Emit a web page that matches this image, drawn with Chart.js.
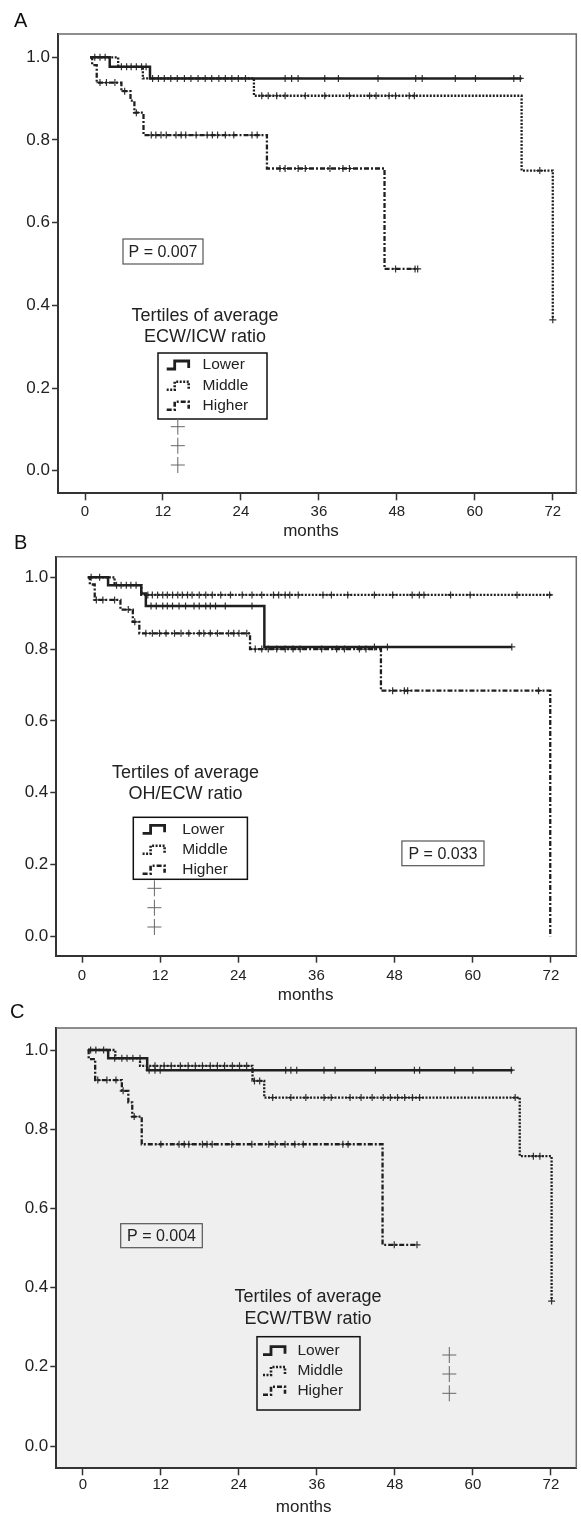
<!DOCTYPE html>
<html>
<head>
<meta charset="utf-8">
<script src="https://cdn.jsdelivr.net/npm/chart.js@4.4.1/dist/chart.umd.min.js"></script>
<style>
  html, body { margin: 0; padding: 0; background: #fff; }
  #wrap { position: relative; width: 581px; height: 1517px; overflow: hidden; }
  canvas { position: absolute; left: 0; }
</style>
</head>
<body>
<div id="wrap">
  <canvas id="chartA" width="581" height="540" style="top:0px"></canvas>
  <canvas id="chartB" width="581" height="475" style="top:528px"></canvas>
  <canvas id="chartC" width="581" height="519" style="top:998px"></canvas>
</div>
<script>
// ---- data (months, cumulative survival) ----
const monthTicks = [0, 12, 24, 36, 48, 60, 72];
const survTicks = [0.0, 0.2, 0.4, 0.6, 0.8, 1.0];
const groups = ['Lower', 'Middle', 'Higher'];

// Panel A: ECW/ICW ratio
const aLowerT = [0.8, 3.8, 10.0, 67.2];
const aLowerS = [1.0, 0.977, 0.949, 0.949];
const aLowerCens = [1.5, 2.3, 3.1, 5.6, 6.4, 7.1, 7.9, 8.7, 9.4, 10.4, 11.3, 12.2, 13.2, 14.2, 15.3, 16.3, 17.4, 18.5, 19.5, 20.6, 21.6, 22.6, 23.6, 24.7, 30.8, 31.8, 32.8, 36.9, 39.0, 45.1, 50.9, 51.9, 57.0, 60.1, 66.0, 67.0];
const aMiddleT = [0.8, 5.1, 8.9, 26.0, 67.2, 72.0];
const aMiddleS = [1.0, 0.977, 0.949, 0.907, 0.726, 0.365];
const aMiddleCens = [27.2, 28.2, 29.5, 30.8, 33.9, 36.9, 40.7, 43.8, 44.8, 46.8, 47.8, 49.9, 50.7, 70.0, 72.0];
const aHigherT = [0.8, 1.1, 1.8, 5.6, 7.0, 7.6, 9.0, 28.0, 46.1, 51.2];
const aHigherS = [1.0, 0.981, 0.939, 0.918, 0.895, 0.866, 0.812, 0.731, 0.488, 0.488];
const aHigherCens = [2.3, 3.3, 4.6, 6.1, 7.9, 10.2, 10.9, 11.7, 12.5, 14.0, 14.8, 15.5, 17.1, 18.8, 19.6, 20.4, 21.6, 22.9, 25.7, 26.5, 30.0, 30.8, 32.8, 33.9, 37.7, 39.7, 40.7, 47.8, 50.8, 51.2];

// Panel B: OH/ECW ratio
const bLowerT = [0.9, 4.0, 9.1, 9.8, 28.0, 66.0];
const bLowerS = [1.0, 0.978, 0.955, 0.92, 0.806, 0.806];
const bLowerCens = [1.4, 2.7, 5.3, 6.0, 6.8, 7.5, 8.3, 10.6, 11.4, 12.4, 13.1, 13.9, 14.9, 15.9, 17.2, 18.0, 19.0, 19.7, 20.5, 22.0, 26.1, 44.9, 46.9, 66.0];
const bMiddleT = [0.9, 5.0, 9.1, 72.1];
const bMiddleS = [1.0, 0.978, 0.951, 0.951];
const bMiddleCens = [10.1, 10.8, 11.6, 12.4, 13.1, 13.9, 14.7, 15.4, 16.2, 16.9, 18.0, 19.0, 20.0, 21.3, 22.8, 24.6, 26.1, 27.6, 29.4, 30.2, 31.2, 31.9, 33.2, 37.0, 38.3, 40.8, 44.9, 47.7, 50.7, 51.8, 52.5, 56.6, 59.6, 66.8, 71.8];
const bHigherT = [0.9, 1.2, 1.95, 5.9, 7.8, 8.8, 25.8, 45.9, 71.9];
const bHigherS = [1.0, 0.98, 0.937, 0.91, 0.876, 0.844, 0.80, 0.684, 0.0];
const bHigherCens = [2.2, 3.2, 5.0, 7.1, 8.1, 9.8, 10.8, 11.9, 12.9, 14.2, 15.2, 16.4, 18.0, 18.7, 19.7, 20.8, 22.5, 23.3, 24.1, 25.3, 26.6, 27.6, 28.6, 29.9, 31.2, 32.4, 33.5, 36.8, 39.1, 40.3, 42.6, 43.6, 47.7, 49.5, 50.0, 70.1];

// Panel C: ECW/TBW ratio
const cLowerT = [0.8, 3.9, 9.9, 66.1];
const cLowerS = [1.0, 0.979, 0.949, 0.949];
const cLowerCens = [1.2, 2.0, 3.2, 4.9, 6.0, 6.8, 7.7, 8.8, 10.2, 11.1, 11.9, 31.2, 32.0, 32.9, 37.1, 38.8, 45.0, 51.0, 51.8, 57.2, 60.0, 65.9];
const cMiddleT = [0.8, 5.0, 8.8, 26.1, 27.9, 67.2, 72.1];
const cMiddleS = [1.0, 0.979, 0.96, 0.922, 0.88, 0.732, 0.366];
const cMiddleCens = [11.1, 12.5, 13.6, 15.0, 16.2, 17.3, 18.4, 19.6, 20.7, 21.8, 23.0, 24.1, 25.2, 26.4, 27.2, 29.2, 32.0, 34.3, 37.1, 38.2, 41.1, 42.8, 44.5, 46.2, 47.3, 48.4, 49.5, 50.7, 51.8, 66.5, 69.3, 70.3, 72.1];
const cHigherT = [0.8, 0.9, 1.9, 6.0, 7.0, 7.6, 9.06, 46.1, 51.4];
const cHigherS = [1.0, 0.977, 0.924, 0.897, 0.868, 0.832, 0.762, 0.508, 0.508];
const cHigherCens = [2.3, 3.7, 5.1, 6.2, 7.9, 12.0, 14.8, 15.6, 16.3, 18.4, 19.1, 19.9, 22.9, 26.0, 28.6, 29.6, 31.1, 32.6, 33.9, 40.0, 40.8, 47.9, 51.4];

// ---- styling ----
const FONT = '"Liberation Sans", Arial, Helvetica, sans-serif';
const INK = '#1f1f1f';
const lineStyle = {
  Lower:  { dash: [],            width: 2.5 },
  Middle: { dash: [2, 1.5],      width: 2.3 },
  Higher: { dash: [5, 2, 2, 2],  width: 2.3 }
};

const survAt = (t, s, when) => {
  let v = s[0];
  for (let i = 0; i < t.length; i++) if (t[i] <= when + 1e-9) v = s[i];
  return v;
};

const buildDatasets = (curves) => {
  const sets = [];
  curves.forEach((c, i) => {
    const st = lineStyle[groups[i]];
    sets.push({
      label: groups[i],
      data: c.t.map((x, k) => ({ x, y: c.s[k] })),
      stepped: 'before',
      borderColor: INK,
      borderWidth: st.width,
      borderDash: st.dash,
      pointRadius: 0,
      fill: false
    });
    sets.push({
      label: groups[i] + ' censored',
      data: c.cens.map(x => ({ x, y: survAt(c.t, c.s, x) })),
      showLine: false,
      pointStyle: 'cross',
      pointRadius: 3.5,
      borderColor: '#333',
      borderWidth: 1.2,
      pointHoverRadius: 0
    });
  });
  return sets;
};

// frame (top/right border) and optional shaded plot area
const framePlugin = {
  id: 'frame',
  beforeDraw(chart, args, opts) {
    const { ctx, chartArea: a } = chart;
    if (opts.fill) {
      ctx.save();
      ctx.fillStyle = opts.fill;
      ctx.fillRect(a.left, a.top, a.right - a.left, a.bottom - a.top);
      ctx.restore();
    }
  },
  afterDraw(chart) {
    const { ctx, chartArea: a } = chart;
    ctx.save();
    ctx.strokeStyle = '#6a6a6a';
    ctx.lineWidth = 1.5;
    ctx.beginPath();
    ctx.moveTo(a.left, a.top);
    ctx.lineTo(a.right, a.top);
    ctx.lineTo(a.right, a.bottom);
    ctx.stroke();
    ctx.restore();
  }
};

// panel letter, x-axis title, p-value box and SPSS style legend
const notesPlugin = {
  id: 'notes',
  afterDraw(chart, args, o) {
    const ctx = chart.ctx;
    ctx.save();
    ctx.fillStyle = '#111';
    ctx.textBaseline = 'alphabetic';
    ctx.textAlign = 'left';
    ctx.font = '20px ' + FONT;
    ctx.fillText(o.letter, o.letterX, o.letterY);

    ctx.textAlign = 'center';
    ctx.textBaseline = 'middle';
    ctx.fillStyle = '#222';
    ctx.font = '17px ' + FONT;
    ctx.fillText('months', o.monthsX, o.monthsY);

    // p value box
    const p = o.pBox;
    ctx.strokeStyle = '#555';
    ctx.lineWidth = 1.2;
    ctx.strokeRect(p.x0, p.y0, p.x1 - p.x0, p.y1 - p.y0);
    ctx.font = '16px ' + FONT;
    ctx.fillText(p.text, (p.x0 + p.x1) / 2, (p.y0 + p.y1) / 2 + 1);

    // legend title
    ctx.font = '18px ' + FONT;
    o.title.lines.forEach((ln, i) => ctx.fillText(ln, o.title.cx, o.title.ys[i]));

    // legend box
    const L = o.legend;
    ctx.strokeStyle = '#111';
    ctx.lineWidth = 1.5;
    ctx.strokeRect(L.x0, L.y0, L.x1 - L.x0, L.y1 - L.y0);
    ctx.textAlign = 'left';
    ctx.font = '15.5px ' + FONT;
    groups.forEach((g, i) => {
      const y = L.rows[i];
      ctx.fillStyle = '#222';
      ctx.fillText(g, L.textX, y);
      const st = lineStyle[g];
      ctx.strokeStyle = INK;
      ctx.lineWidth = st.width + 0.3;
      ctx.setLineDash(st.dash);
      ctx.beginPath();
      ctx.moveTo(L.symX, y + 4);
      ctx.lineTo(L.symX + 8, y + 4);
      ctx.lineTo(L.symX + 8, y - 4);
      ctx.lineTo(L.symX + 22, y - 4);
      ctx.lineTo(L.symX + 22, y + 3);
      ctx.stroke();
      ctx.setLineDash([]);
    });

    // censored markers of the legend
    ctx.strokeStyle = '#666';
    ctx.lineWidth = 1;
    o.crosses.ys.forEach(y => {
      ctx.beginPath();
      ctx.moveTo(o.crosses.x - 7, y);
      ctx.lineTo(o.crosses.x + 7, y);
      ctx.moveTo(o.crosses.x, y - 8);
      ctx.lineTo(o.crosses.x, y + 8);
      ctx.stroke();
    });
    ctx.restore();
  }
};

const makeKm = (id, panel) => {
  const canvas = document.getElementById(id);
  return new Chart(canvas, {
    type: 'line',
    data: { datasets: buildDatasets(panel.curves) },
    options: {
      responsive: false,
      animation: false,
      devicePixelRatio: 1,
      layout: { padding: { top: panel.areaTop, right: canvas.width - panel.areaRight, left: 0, bottom: 0 } },
      plugins: {
        legend: { display: false },
        tooltip: { enabled: false },
        frame: { fill: panel.fill },
        notes: panel.notes
      },
      scales: {
        x: {
          type: 'linear',
          min: panel.xMin,
          max: panel.xMax,
          afterFit: s => { s.height = canvas.height - panel.areaBottom; },
          afterBuildTicks: s => { s.ticks = monthTicks.map(v => ({ value: v })); },
          grid: { display: true, drawOnChartArea: false, drawTicks: true, tickLength: 7, tickColor: '#333', tickWidth: 1.5 },
          border: { display: true, color: '#333', width: 2 },
          ticks: {
            color: '#222', font: { family: FONT, size: 15 }, padding: panel.xPad,
            maxRotation: 0, autoSkip: false, callback: v => String(v)
          }
        },
        y: {
          type: 'linear',
          min: panel.yMin,
          max: panel.yMax,
          afterFit: s => { s.width = panel.areaLeft; },
          afterBuildTicks: s => { s.ticks = survTicks.map(v => ({ value: v })); },
          grid: { display: true, drawOnChartArea: false, drawTicks: true, tickLength: 6, tickColor: '#333', tickWidth: 1.5 },
          border: { display: true, color: '#333', width: 2 },
          ticks: {
            color: '#222', font: { family: FONT, size: 17 }, padding: 2,
            autoSkip: false, callback: v => v.toFixed(1)
          }
        }
      }
    },
    plugins: [framePlugin, notesPlugin]
  });
};

makeKm('chartA', {
  curves: [
    { t: aLowerT, s: aLowerS, cens: aLowerCens },
    { t: aMiddleT, s: aMiddleS, cens: aMiddleCens },
    { t: aHigherT, s: aHigherS, cens: aHigherCens }
  ],
  areaTop: 34, areaBottom: 493.3, areaLeft: 58, areaRight: 580,
  xMin: -4.16, xMax: 75.62, yMin: -0.0547, yMax: 1.0564, xPad: 3,
  fill: null,
  notes: {
    letter: 'A', letterX: 14, letterY: 26.7, monthsX: 311, monthsY: 531,
    pBox: { x0: 123, y0: 239, x1: 203, y1: 264, text: 'P = 0.007' },
    title: { cx: 205, ys: [315.7, 337], lines: ['Tertiles of average', 'ECW/ICW ratio'] },
    legend: { x0: 158, y0: 353, x1: 267, y1: 419, rows: [365, 385.7, 405.7], symX: 166.7, textX: 202.6 },
    crosses: { x: 177.8, ys: [426.7, 445.7, 465] }
  }
});

makeKm('chartB', {
  curves: [
    { t: bLowerT, s: bLowerS, cens: bLowerCens },
    { t: bMiddleT, s: bMiddleS, cens: bMiddleCens },
    { t: bHigherT, s: bHigherS, cens: bHigherCens }
  ],
  areaTop: 28.7, areaBottom: 427.7, areaLeft: 56.3, areaRight: 580,
  xMin: -3.95, xMax: 75.9, yMin: -0.0543, yMax: 1.0574, xPad: 4,
  fill: null,
  notes: {
    letter: 'B', letterX: 14, letterY: 21, monthsX: 305.6, monthsY: 467,
    pBox: { x0: 401.9, y0: 313, x1: 484, y1: 337.7, text: 'P = 0.033' },
    title: { cx: 185.5, ys: [244.7, 266.3], lines: ['Tertiles of average', 'OH/ECW ratio'] },
    legend: { x0: 133.3, y0: 289.3, x1: 247.4, y1: 351.3, rows: [301.3, 321.7, 341.7], symX: 142.6, textX: 182.2 },
    crosses: { x: 154.4, ys: [360.3, 379.7, 399] }
  }
});

makeKm('chartC', {
  curves: [
    { t: cLowerT, s: cLowerS, cens: cLowerCens },
    { t: cMiddleT, s: cMiddleS, cens: cMiddleCens },
    { t: cHigherT, s: cHigherS, cens: cHigherCens }
  ],
  areaTop: 30, areaBottom: 470.3, areaLeft: 56.3, areaRight: 580,
  xMin: -4.08, xMax: 75.9, yMin: -0.0563, yMax: 1.0556, xPad: 1,
  fill: '#efefef',
  notes: {
    letter: 'C', letterX: 10, letterY: 20, monthsX: 303.7, monthsY: 509,
    pBox: { x0: 120.7, y0: 225.7, x1: 202.3, y1: 249.7, text: 'P = 0.004' },
    title: { cx: 308, ys: [298.7, 321.3], lines: ['Tertiles of average', 'ECW/TBW ratio'] },
    legend: { x0: 257, y0: 338.7, x1: 360, y1: 412, rows: [352.7, 373, 392.7], symX: 263, textX: 297.4 },
    crosses: { x: 449.3, ys: [357, 376, 395.3] }
  }
});
</script>
</body>
</html>
